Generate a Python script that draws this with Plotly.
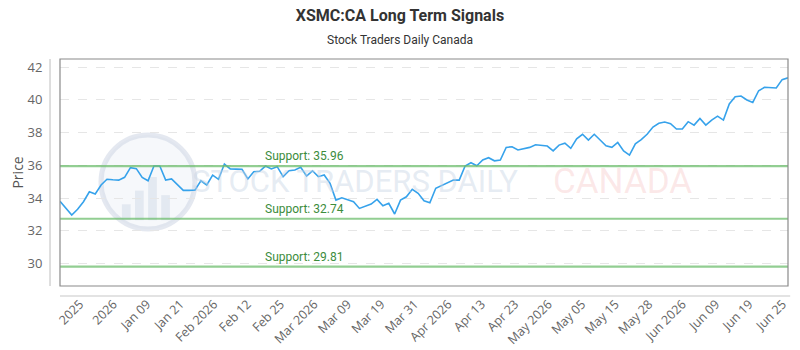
import plotly.graph_objects as go

# ---- data ----
prices = [33.80, 33.40, 32.97, 33.32, 33.78, 34.39, 34.25, 34.80, 35.15, 35.12,
          35.10, 35.27, 35.86, 35.80, 35.27, 35.06, 35.96, 35.96, 35.10, 35.17,
          34.80, 34.47, 34.47, 34.49, 35.06, 34.80, 35.41, 35.15, 36.08, 35.78,
          35.77, 35.76, 35.17, 35.61, 35.64, 35.96, 35.78, 35.92, 35.31, 35.67,
          35.72, 35.88, 35.35, 35.67, 35.31, 35.41, 34.90, 33.88, 34.02, 33.90,
          33.78, 33.37, 33.50, 33.64, 33.92, 33.53, 33.68, 33.03, 33.88, 34.08,
          34.54, 34.29, 33.84, 33.72, 34.60, 34.77, 34.93, 35.10, 35.10, 35.96,
          36.16, 35.98, 36.33, 36.47, 36.28, 36.33, 37.10, 37.14, 36.94, 37.02,
          37.10, 37.26, 37.22, 37.18, 36.89, 37.24, 37.36, 37.04, 37.62, 37.90,
          37.55, 37.90, 37.55, 37.19, 37.10, 37.40, 36.88, 36.63, 37.32, 37.57,
          37.90, 38.34, 38.57, 38.65, 38.55, 38.22, 38.22, 38.67, 38.46, 38.87,
          38.46, 38.77, 39.01, 38.77, 39.75, 40.19, 40.24, 40.00, 39.85, 40.56,
          40.77, 40.75, 40.73, 41.24, 41.35]
x_index = list(range(len(prices)))

tick_labels = ["2025", "2026", "Jan 09", "Jan 21", "Feb 2026", "Feb 12", "Feb 25",
               "Mar 2026", "Mar 09", "Mar 19", "Mar 31", "Apr 2026", "Apr 13", "Apr 23",
               "May 2026", "May 05", "May 15", "May 28", "Jun 2026", "Jun 09", "Jun 19",
               "Jun 25"]
tick_positions = [3.4, 9.1, 14.8, 20.5, 26.2, 31.9, 37.6, 43.3, 49.0, 54.7, 60.4,
                  66.1, 71.8, 77.5, 83.2, 88.9, 94.6, 100.3, 106.0, 111.7, 117.4, 123.1]

support_levels = [35.96, 32.74, 29.81]
y_ticks = [30, 32, 34, 36, 38, 40, 42]

title_text = "XSMC:CA Long Term Signals"
subtitle_text = "Stock Traders Daily Canada"
y_title = "Price"

# ---- figure ----
fig = go.Figure()

fig.add_trace(go.Scatter(
    x=x_index, y=prices, mode="lines",
    line=dict(color="rgb(54,162,235)", width=1.6),
    hoverinfo="skip", showlegend=False,
))

shapes = []
# support lines
for lvl in support_levels:
    shapes.append(dict(type="line", xref="paper", yref="y", x0=0, x1=1, y0=lvl, y1=lvl,
                       line=dict(color="rgba(110,190,110,0.75)", width=2.2), layer="above"))
# plot frame
shapes.append(dict(type="rect", xref="paper", yref="paper", x0=0, x1=1, y0=0, y1=1,
                   line=dict(color="#8a8a8a", width=1.2), layer="above"))
# offset y axis line
shapes.append(dict(type="line", xref="paper", yref="paper", x0=-0.0137, x1=-0.0137, y0=0, y1=1,
                   line=dict(color="#c8c8c8", width=1.2)))
# offset x axis line
shapes.append(dict(type="line", xref="paper", yref="paper", x0=0, x1=1.003, y0=-0.044, y1=-0.044,
                   line=dict(color="#c8c8c8", width=1.2)))
# watermark logo circle
shapes.append(dict(type="circle", xref="paper", yref="paper", x0=0.0563, x1=0.1854, y0=0.251, y1=0.665,
                   line=dict(color="rgba(205,214,228,0.55)", width=5),
                   fillcolor="rgba(236,240,246,0.45)", layer="below"))
for bx0, bx1, by1 in [(0.085, 0.097, 0.36), (0.103, 0.115, 0.42), (0.121, 0.133, 0.48),
                      (0.139, 0.151, 0.40)]:
    shapes.append(dict(type="rect", xref="paper", yref="paper", x0=bx0, x1=bx1, y0=0.29, y1=by1,
                       line=dict(width=0), fillcolor="rgba(205,214,228,0.45)", layer="below"))

annotations = []
for lvl in support_levels:
    annotations.append(dict(xref="paper", yref="y", x=0.2795, y=lvl, text=f"Support: {lvl:.2f}",
                            showarrow=False, xanchor="left", yanchor="bottom", yshift=1,
                            font=dict(family="Roboto", size=12, color="rgb(60,140,60)")))
annotations.append(dict(xref="paper", yref="paper", x=0.405, y=0.46, text="STOCK TRADERS DAILY",
                        showarrow=False, xanchor="center", yanchor="middle",
                        font=dict(family="Roboto", size=31,
                                  color="rgba(200,212,228,0.45)")))
annotations.append(dict(xref="paper", yref="paper", x=0.772, y=0.46, text="CANADA",
                        showarrow=False, xanchor="center", yanchor="middle",
                        font=dict(family="Roboto", size=35,
                                  color="rgba(240,150,150,0.22)")))
annotations.append(dict(xref="paper", yref="paper", x=0.467, y=1, yshift=19, text=subtitle_text,
                        showarrow=False, xanchor="center", yanchor="middle",
                        font=dict(family="Roboto", size=12, color="#333")))
annotations.append(dict(xref="paper", yref="paper", x=-0.059, y=0.5, text=y_title, textangle=-90,
                        showarrow=False, xanchor="center", yanchor="middle",
                        font=dict(family="Open Sans", size=14, color="#555")))

fig.update_layout(
    width=800, height=350,
    margin=dict(l=60, r=12, t=59, b=64),
    paper_bgcolor="white", plot_bgcolor="white",
    title=dict(text=f"<b>{title_text}</b>", x=0.5, xanchor="center", y=0.955, yanchor="middle",
               font=dict(family="Roboto", size=16, color="#333")),
    shapes=shapes, annotations=annotations,
    showlegend=False,
)
fig.update_xaxes(range=[0, len(prices) - 1], tickmode="array", tickvals=tick_positions,
                 ticktext=tick_labels, tickangle=-45, showgrid=False, zeroline=False,
                 showline=False, ticks="outside", ticklen=5, tickcolor="rgba(0,0,0,0)",
                 automargin=False,
                 tickfont=dict(family="Open Sans", size=12.5, color="#666"))
fig.update_yaxes(range=[28.63, 42.5], tickmode="array", tickvals=y_ticks,
                 showgrid=True, gridcolor="#e6e6e6", griddash="dash", gridwidth=1,
                 zeroline=False, showline=False, ticks="outside", ticklen=14,
                 tickcolor="rgba(0,0,0,0)", automargin=False,
                 tickfont=dict(family="Open Sans", size=13, color="#666"))

fig.write_html("out.html")
